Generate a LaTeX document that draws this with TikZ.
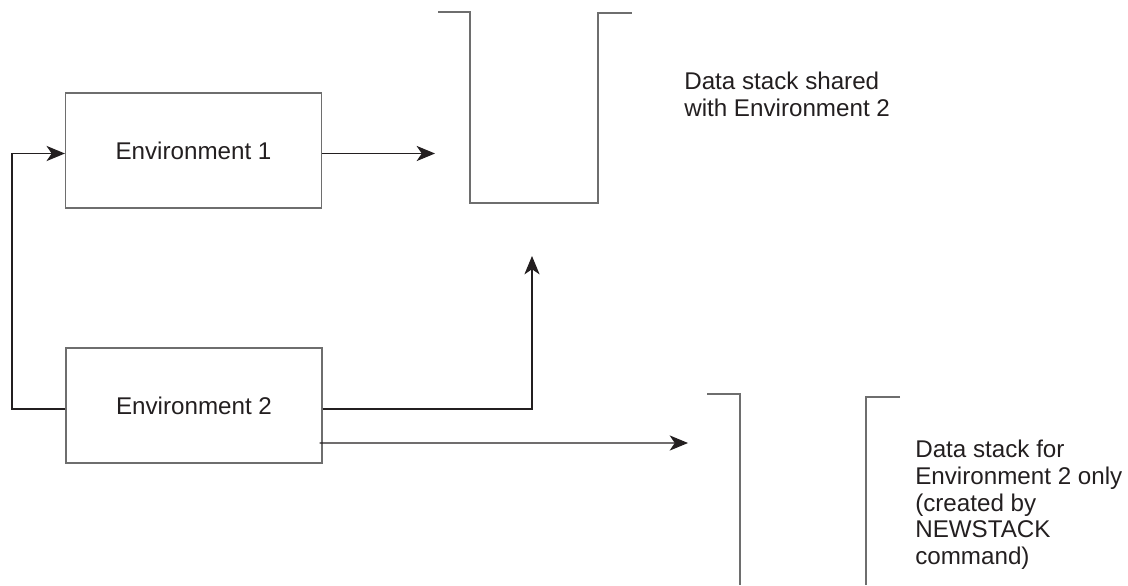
\documentclass[tikz,border=0pt]{standalone}
\usepackage{fontspec}
\setmainfont{Liberation Sans}
\usepackage{tikz}
\usetikzlibrary{
  arrows.meta,
  positioning,
  calc
}
\definecolor{dsInk}{HTML}{231F20}
\definecolor{dsPen}{HTML}{6E6E6E}
\tikzset{
  envbox/.style={
    draw=dsPen, line width=0.8pt, minimum width=6.4cm, minimum height=2.875cm,
    font=\fontsize{17.2}{19}\selectfont, text=dsInk, inner sep=0pt
  },
  stackwall/.style={draw=dsPen, line width=0.8pt},
  flow/.style={-{Stealth[length=4.6mm, width=3.8mm, inset=1.3mm]}, line width=0.75pt, dsInk},
  note/.style={font=\fontsize{17.2}{19}\selectfont, text=dsInk, align=left, inner sep=0pt, anchor=north west}
}

\begin{document}
\begin{tikzpicture}[x=0.025cm, y=-0.025cm]
  \useasboundingbox (0,0) rectangle (1128,585);
  % environments
  \node[envbox] (env1) at (193.5,150.5) {Environment 1};
  \node[envbox] (env2) at (194,405.5) {Environment 2};
  % data stacks
  \draw[stackwall] (438,12) -- (470,12) -- (470,203) -- (598,203) -- (598,13) -- (632,13);
  \draw[stackwall] (707,394) -- (740,394) -- (740,585);
  \draw[stackwall] (900,397) -- (866,397) -- (866,585);
  \node[note] (shared) at (684,72) {Data stack shared\\with Environment 2};
  \node[note] (own) at (915,440) {Data stack for\\Environment 2 only\\(created by\\NEWSTACK\\command)};
  % connectors
  \coordinate (in1) at ($(env1.west)+(0,3)$);
  \coordinate (out1) at ($(env1.east)+(0,3)$);
  \coordinate (out2) at ($(env2.east)+(0,3.5)$);
  \coordinate (out2b) at ($(env2.east)+(-3,37.5)$);
  \coordinate (back2) at ($(env2.west)+(0,3.5)$);
  \coordinate (bend) at (12,0);
  \coordinate (tip1) at (435,153.5);
  \coordinate (tip2) at (532,256);
  \coordinate (tip3) at (688,443);
  \draw[flow] (out1) -- (tip1);
  \draw[flow] (out2) -| (tip2);
  \draw[flow] (out2b) -- (tip3);
  \draw[flow] (back2) -- (bend |- back2) -- (bend |- in1) -- (in1);
\end{tikzpicture}
\end{document}
